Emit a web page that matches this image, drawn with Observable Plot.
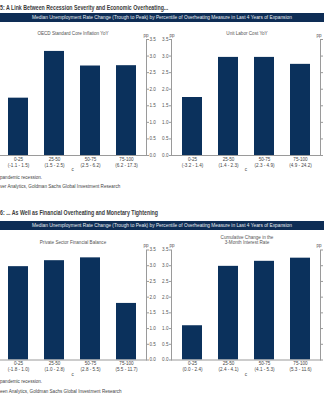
<!DOCTYPE html>
<html><head><meta charset="utf-8">
<script src="https://cdn.jsdelivr.net/npm/d3@7"></script>
<script src="https://cdn.jsdelivr.net/npm/@observablehq/plot@0.6"></script>
<style>
body{margin:0;background:#fff;}
#page{position:relative;width:324px;height:400px;overflow:hidden;font-family:"Liberation Sans",Arial,sans-serif;}
.abs{position:absolute;white-space:nowrap;}
.title{font-family:"Liberation Sans Narrow","Liberation Sans",sans-serif;font-weight:bold;font-size:7px;color:#3a3a3a;line-height:8px;transform:scaleX(0.75);transform-origin:0 0;}
.banner{left:0;width:324px;height:9px;background:#0e2d55;color:#e8edf3;font-size:4.8px;text-align:center;line-height:9px;}
.sub{font-size:4.6px;color:#555;text-align:center;transform:translateX(-50%);line-height:5px;}
.note{font-size:4.6px;color:#444;line-height:5px;}
.chart{position:absolute;}
</style></head>
<body><div id="page"></div>
<script>
const categories = ["0-25","25-50","50-75","75-100"];
const inflationRanges = ["(-1.1 - 1.5)","(1.5 - 2.5)","(2.5 - 6.2)","(6.2 - 17.3)"];
const inflationValues = [1.73, 3.14, 2.70, 2.71];
const laborRanges = ["(-3.2 - 1.4)","(1.4 - 2.3)","(2.3 - 4.9)","(4.9 - 24.2)"];
const laborValues = [1.75, 2.96, 2.96, 2.75];
const balanceRanges = ["(-1.8 - 1.0)","(1.0 - 2.8)","(2.8 - 5.5)","(5.5 - 11.7)"];
const balanceValues = [2.97, 3.16, 3.25, 1.80];
const rateRanges = ["(0.0 - 2.4)","(2.4 - 4.1)","(4.1 - 5.3)","(5.3 - 11.6)"];
const rateValues = [1.09, 2.98, 3.14, 3.24];
const yTicks = [0, 0.5, 1, 1.5, 2, 2.5, 3, 3.5];

const page = document.getElementById("page");
function addDiv(cls, html, style) {
  const d = document.createElement("div");
  d.className = "abs " + cls;
  d.innerHTML = html;
  Object.assign(d.style, style);
  page.appendChild(d);
}

function bars(values, ranges, side, h, mt, mb) {
  const left = side === "left";
  const marks = [
    Plot.barY(categories.map((c, i) => ({c, v: values[i]})), {x: "c", y: "v", fill: "#0b315c"}),
    Plot.frame({anchor: "bottom", stroke: "#9a9a9a"}),
    Plot.frame({anchor: left ? "right" : "left", stroke: "#9a9a9a"}),
    Plot.axisX({tickSize: 0, tickPadding: 1, lineHeight: 1.3, fill: "#444",
      tickFormat: d => d + "\n" + ranges[categories.indexOf(d)]}),
    Plot.axisY({anchor: left ? "right" : "left", ticks: yTicks, tickFormat: d => d.toFixed(1),
      tickSize: 2, tickPadding: 1, label: null, stroke: "#9a9a9a", fill: "#555"}),
    Plot.text(["pp"], {frameAnchor: left ? "top-right" : "top-left", dy: -6, dx: left ? 2 : -2, fill: "#555"})
  ];
  if (!left) {
    marks.push(Plot.frame({anchor: "right", stroke: "#9a9a9a"}));
    marks.push(Plot.axisY({anchor: "right", ticks: yTicks, tickFormat: null,
      tickSize: 2, label: null, stroke: "#9a9a9a", text: null}));
    marks.push(Plot.text(["pp"], {frameAnchor: "top-right", dy: -6, dx: 1, fill: "#555"}));
  }
  return Plot.plot({
    width: 180, height: h,
    marginLeft: left ? 8.5 : 16, marginRight: left ? 24 : 15,
    marginTop: mt, marginBottom: mb,
    style: {background: "transparent", overflow: "visible", fontSize: "4.6px", fontFamily: "Liberation Sans, Arial, sans-serif"},
    x: {domain: categories, paddingInner: 0.455, paddingOuter: 0.26},
    y: {domain: [0, 3.5]},
    marks
  });
}
function place(svg, left, top) {
  svg.classList.add("chart");
  svg.style.position = "absolute";
  svg.style.left = left + "px";
  svg.style.top = top + "px";
  page.appendChild(svg);
}

// Panel 1
addDiv("title", "5: A Link Between Recession Severity and Economic Overheating...", {left: "0px", top: "4px"});
addDiv("banner", "Median Unemployment Rate Change (Trough to Peak) by Percentile of Overheating Measure in Last 4 Years of Expansion", {top: "13px"});
addDiv("sub", "OECD Standard Core Inflation YoY", {left: "73px", top: "30.5px"});
addDiv("sub", "Unit Labor Cost YoY", {left: "247px", top: "30.5px"});
place(bars(inflationValues, inflationRanges, "left", 145, 11, 18), -10, 28);
place(bars(laborValues, laborRanges, "right", 145, 11, 18), 155, 28);
addDiv("note", "pandemic recession.", {left: "0px", top: "174.5px"});
addDiv("note", "ver Analytics, Goldman Sachs Global Investment Research", {left: "0px", top: "183.5px"});

// Panel 2
addDiv("title", "6: ... As Well as Financial Overheating and Monetary Tightening", {left: "0px", top: "209px"});
addDiv("banner", "Median Unemployment Rate Change (Trough to Peak) by Percentile of Overheating Measure in Last 4 Years of Expansion", {top: "221px"});
addDiv("sub", "Private Sector Financial Balance", {left: "73px", top: "239.5px"});
addDiv("sub", "Cumulative Change in the<br>3-Month Interest Rate", {left: "247px", top: "235px"});
place(bars(balanceValues, balanceRanges, "left", 140, 11.5, 18.5), -10, 238);
place(bars(rateValues, rateRanges, "right", 140, 11.5, 18.5), 155, 238);
addDiv("note", "pandemic recession.", {left: "0px", top: "378.5px"});
addDiv("note", "een Analytics, Goldman Sachs Global Investment Research", {left: "0px", top: "388.5px"});
</script>
</body></html>
